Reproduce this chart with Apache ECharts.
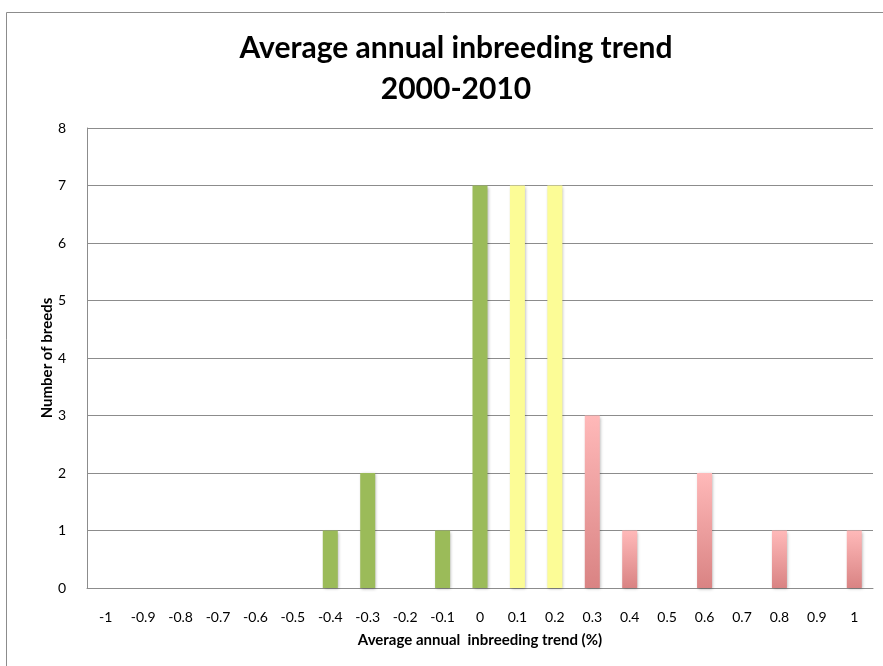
<!DOCTYPE html>
<html>
<head>
<meta charset="utf-8">
<script src="https://cdn.jsdelivr.net/npm/echarts@6/dist/echarts.min.js"></script>
<style>
  html, body { margin: 0; padding: 0; background: #fff; }
  #chart { width: 883px; height: 666px; }
</style>
</head>
<body>
<div id="chart"></div>
<script>
// Inbreeding trend bins (% per year) and how many breeds fall in each
const trendBins = ['-1', '-0.9', '-0.8', '-0.7', '-0.6', '-0.5', '-0.4', '-0.3', '-0.2', '-0.1',
                   '0', '0.1', '0.2', '0.3', '0.4', '0.5', '0.6', '0.7', '0.8', '0.9', '1'];
const breedCounts = [0, 0, 0, 0, 0, 0, 1, 2, 0, 1, 7, 7, 7, 3, 1, 0, 2, 0, 1, 0, 1];
const yTicks = [0, 1, 2, 3, 4, 5, 6, 7, 8];

const FONT = 'Lato, "Open Sans", sans-serif';

const greenFill = '#9BBB59';
const yellowFill = '#FCFC96';
const pinkFill = {
  type: 'linear', x: 0, y: 0, x2: 0, y2: 1,
  colorStops: [
    { offset: 0, color: '#FFB9B9' },
    { offset: 1, color: '#D98383' }
  ]
};

function fillFor(bin) {
  const v = parseFloat(bin);
  if (v <= 0.001) return greenFill;
  if (v < 0.25) return yellowFill;
  return pinkFill;
}

const chart = echarts.init(document.getElementById('chart'));

chart.setOption({
  backgroundColor: '#fff',
  animation: false,
  graphic: [{
    type: 'rect',
    shape: { x: 6.5, y: 12.5, width: 900, height: 700 },
    style: { fill: 'none', stroke: '#8c8c8c', lineWidth: 1 },
    silent: true,
    z: -1
  }],
  title: {
    text: 'Average annual inbreeding trend\n2000-2010',
    left: 451,
    textAlign: 'center',
    top: 23,
    textStyle: {
      fontFamily: FONT,
      fontSize: 30,
      fontWeight: 'bold',
      color: '#000',
      lineHeight: 41
    }
  },
  grid: {
    left: 87,
    right: 10,
    top: 128,
    bottom: 78,
    containLabel: false
  },
  xAxis: {
    type: 'category',
    data: trendBins,
    name: 'Average annual  inbreeding trend (%)',
    nameLocation: 'middle',
    nameGap: 45,
    nameMoveOverlap: false,
    nameTextStyle: { fontFamily: FONT, fontSize: 15, fontWeight: 'bold', color: '#000' },
    axisLine: { lineStyle: { color: '#8c8c8c', width: 1 } },
    axisTick: { show: false },
    axisLabel: { fontFamily: FONT, fontSize: 14, color: '#000', margin: 22, interval: 0 }
  },
  yAxis: {
    type: 'value',
    min: yTicks[0],
    max: yTicks[yTicks.length - 1],
    interval: 1,
    name: 'Number of breeds',
    nameLocation: 'middle',
    nameGap: 32,
    nameMoveOverlap: false,
    nameTextStyle: { fontFamily: FONT, fontSize: 15, fontWeight: 'bold', color: '#000' },
    axisLine: { show: true, lineStyle: { color: '#8c8c8c', width: 1 } },
    axisTick: { show: false },
    axisLabel: { fontFamily: FONT, fontSize: 14, color: '#000', margin: 21 },
    splitLine: { lineStyle: { color: '#8c8c8c', width: 1 } }
  },
  series: [{
    type: 'bar',
    barWidth: 15,
    data: breedCounts.map((v, i) => ({
      value: v,
      itemStyle: {
        color: fillFor(trendBins[i]),
        shadowColor: 'rgba(0,0,0,0.3)',
        shadowBlur: 3,
        shadowOffsetX: 1,
        shadowOffsetY: 1
      }
    }))
  }]
});
</script>
</body>
</html>
